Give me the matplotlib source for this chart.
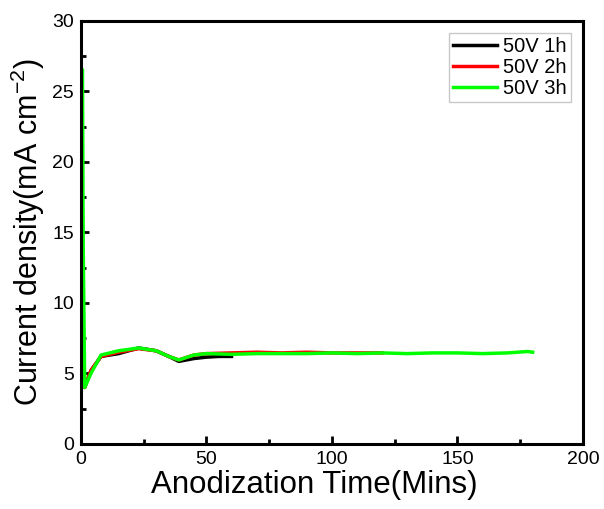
import matplotlib.pyplot as plt

plt.rcParams['font.family'] = ['Liberation Sans', 'DejaVu Sans']
plt.rcParams['mathtext.fontset'] = 'custom'
plt.rcParams['mathtext.rm'] = 'Liberation Sans'
plt.rcParams['mathtext.it'] = 'Liberation Sans'

# Step 1: values
t_1h = [0.4, 0.7, 1.5, 4, 8, 15, 23, 30, 35, 39, 45, 50, 55, 60]
j_1h = [13, 8, 4.0, 5.2, 6.2, 6.4, 6.8, 6.6, 6.2, 5.85, 6.05, 6.15, 6.2, 6.2]

t_2h = [0.4, 0.7, 1.5, 4, 8, 15, 23, 30, 35, 39, 45, 50, 60, 70, 80, 90, 100, 110, 120]
j_2h = [10, 7, 4.0, 5.2, 6.2, 6.5, 6.75, 6.6, 6.2, 5.95, 6.3, 6.4, 6.45, 6.5, 6.45, 6.5, 6.45, 6.45, 6.45]

t_3h = [0.6, 0.9, 1.5, 4, 8, 15, 23, 30, 35, 39, 45, 50, 60, 70, 80, 90, 100,
        110, 120, 130, 140, 150, 160, 170, 178, 180]
j_3h = [26.5, 14, 4.0, 5.0, 6.3, 6.6, 6.8, 6.6, 6.2, 5.95, 6.3, 6.4, 6.35, 6.4, 6.4, 6.4, 6.45,
        6.4, 6.45, 6.4, 6.45, 6.45, 6.4, 6.45, 6.55, 6.5]

labels = ['50V 1h', '50V 2h', '50V 3h']

# Step 2: plot
fig = plt.figure(figsize=(6.04, 5.09), dpi=100)
ax = fig.add_axes([0.134, 0.128, 0.831, 0.831])
ax.plot(t_1h, j_1h, color='black', lw=2.5, label=labels[0])
ax.plot(t_2h, j_2h, color='red', lw=2.5, label=labels[1])
ax.plot(t_3h, j_3h, color='#00ff00', lw=2.5, label=labels[2])

ax.set_xlim(0, 200)
ax.set_ylim(0, 30)
ax.set_xticks([0, 50, 100, 150, 200])
ax.set_xticks([25, 75, 125, 175], minor=True)
ax.set_yticks([0, 5, 10, 15, 20, 25, 30])
ax.set_yticks([2.5, 7.5, 12.5, 17.5, 22.5, 27.5], minor=True)
ax.tick_params(direction='in', which='major', length=6, width=2, labelsize=14, pad=5)
ax.tick_params(direction='in', which='minor', length=3.5, width=2)
for s in ax.spines.values():
    s.set_linewidth(2.2)

ax.set_xlabel('Anodization Time(Mins)', fontsize=22.5)
ax.xaxis.set_label_coords(0.465, -0.062, transform=ax.transAxes)
ax.xaxis.label.set_va('top')
ax.set_ylabel('Current density(mA cm$^{-2}$)', fontsize=22, labelpad=4)

leg = ax.legend(loc='upper right', fontsize=14.5, frameon=True, fancybox=False,
                handlelength=2.2, handletextpad=0.3, labelspacing=0.1,
                borderpad=0.2, borderaxespad=0.6)
leg.get_frame().set_edgecolor('#bbbbbb')
leg.get_frame().set_linewidth(1)

fig.savefig('out.png', dpi=100)
